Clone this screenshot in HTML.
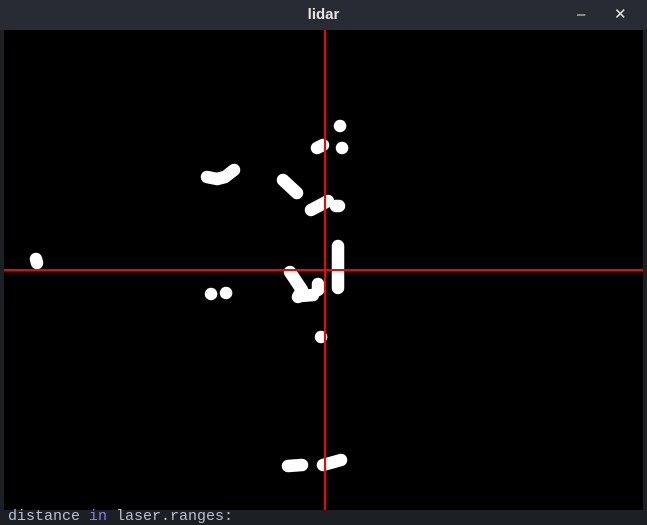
<!DOCTYPE html>
<html><head><meta charset="utf-8"><style>
html,body{margin:0;padding:0;width:647px;height:522px;overflow:hidden;background:#1c1f24;font-family:"Liberation Sans",sans-serif}
#title{position:absolute;left:0;top:0;width:647px;height:30px;background:#282b33;color:#e6e6e6;font-weight:bold;font-size:15px;text-align:center;line-height:30px}
#ed{position:absolute;left:8px;top:508px;color:#b8c0cc;font-family:"Liberation Mono",monospace;font-size:15px;white-space:pre}
</style></head><body>
<div id="title">lidar
<span style="position:absolute;left:577px;top:0;font-weight:normal">–</span>
<span style="position:absolute;left:614px;top:0;font-weight:normal">✕</span></div>
<svg id="c" style="position:absolute;left:4px;top:30px" width="639" height="480"></svg>
<div id="ed">distance <span style="color:#8a7cf0">in</span> laser.ranges:</div>
<script>
// scan clusters: offsets from the sensor origin, in pixels at scale 1
const clusterX = [[15],[-8,-2],[17],[-118,-108,-100,-91],[-42,-28],[-14,3],[11,14],[13,13],[-35,-23,-27],[-25,-12],[-7,-7],[-289,-288],[-114],[-99],[-4],[-37,-23],[-2,16]];
const clusterY = [[-144],[-122,-125],[-122],[-93,-91,-93,-100],[-90,-77],[-60,-69],[-64,-64],[-24,18],[2,20,27],[26,25],[14,20],[-11,-7],[24],[23],[67],[196,195],[195,190]];
const ox=321, oy=240, scale=1;
const sx=v=>ox+v*scale, sy=v=>oy+v*scale;
const svg=document.getElementById('c');
const NS='http://www.w3.org/2000/svg';
const bg=document.createElementNS(NS,'rect');
bg.setAttribute('width',639);bg.setAttribute('height',480);bg.setAttribute('fill','#000');


svg.appendChild(bg);
clusterX.forEach((xs,i)=>{
  const ys=clusterY[i];
  const p=document.createElementNS(NS,'polyline');
  let pts=xs.map((x,j)=>sx(x)+','+sy(ys[j]));
  if(xs.length===1) pts.push((sx(xs[0])+0.1)+','+sy(ys[0]));
  p.setAttribute('points',pts.join(' '));
  p.setAttribute('fill','none');p.setAttribute('stroke','#fff');
  p.setAttribute('stroke-width',12.5);p.setAttribute('stroke-linecap','round');p.setAttribute('stroke-linejoin','round');
  
  
  svg.appendChild(p);
});
const v=document.createElementNS(NS,'line');
v.setAttribute('x1',ox);v.setAttribute('x2',ox);v.setAttribute('y1',0);v.setAttribute('y2',480);
v.setAttribute('stroke','#ff0000');v.setAttribute('stroke-width',2);


svg.appendChild(v);
const h=document.createElementNS(NS,'line');
h.setAttribute('x1',0);h.setAttribute('x2',639);h.setAttribute('y1',oy);h.setAttribute('y2',oy);
h.setAttribute('stroke','#ff0000');h.setAttribute('stroke-width',2);


svg.appendChild(h);
</script>
</body></html>
